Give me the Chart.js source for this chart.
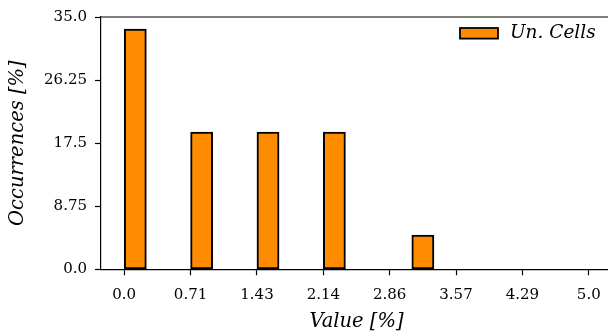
<!DOCTYPE html>
<html>
<head>
<meta charset="utf-8">
<script src="https://cdn.jsdelivr.net/npm/chart.js@4.4.1/dist/chart.umd.min.js"></script>
<style>
  html, body { margin: 0; padding: 0; background: #fff; overflow: hidden; }
  #wrap { width: 620px; height: 334px; }
</style>
</head>
<body>
<div id="wrap"><canvas id="hist" width="620" height="334"></canvas></div>
<script>
// histogram: 21 bins over [0, 5]
const binRange = [0, 5];
const binCount = 21;
const occurrences = [33.33, 0, 0, 19.05, 0, 0, 19.05, 0, 0, 19.05, 0, 0, 0, 4.76, 0, 0, 0, 0, 0, 0, 0];
const seriesLabel = 'Un. Cells';

const xTickValues = [0, 0.714, 1.429, 2.143, 2.857, 3.571, 4.286, 5.0];
const xTickLabels = ['0.0', '0.71', '1.43', '2.14', '2.86', '3.57', '4.29', '5.0'];
const yTickValues = [0, 8.75, 17.5, 26.25, 35.0];
const yTickLabels = ['0.0', '8.75', '17.5', '26.25', '35.0'];

const barColor = '#ff8c00';
const serif = "'DejaVu Serif', serif";

const binWidth = (binRange[1] - binRange[0]) / binCount;
const points = occurrences.map((v, i) => ({
    x: binRange[0] + (i + 0.5) * binWidth,
    y: v > 0 ? v : null
}));

// top/right spines
const frame = {
    id: 'frame',
    afterDraw(chart) {
        const a = chart.chartArea, ctx = chart.ctx;
        ctx.save();
        ctx.strokeStyle = '#000';
        ctx.lineWidth = 1.2;
        ctx.beginPath();
        ctx.moveTo(a.left, a.top);
        ctx.lineTo(a.right, a.top);
        ctx.lineTo(a.right, a.bottom);
        ctx.stroke();
        ctx.restore();
    }
};

// legend inside the axes, upper right
const innerLegend = {
    id: 'innerLegend',
    afterDraw(chart) {
        const a = chart.chartArea, ctx = chart.ctx;
        const ds = chart.data.datasets[0];
        const bx = a.right - 152, by = a.top + 11, bw = 38, bh = 10.6;
        ctx.save();
        ctx.fillStyle = ds.backgroundColor;
        ctx.strokeStyle = ds.borderColor;
        ctx.lineWidth = 1.8;
        ctx.fillRect(bx, by, bw, bh);
        ctx.strokeRect(bx, by, bw, bh);
        ctx.fillStyle = '#000';
        ctx.font = 'italic 18.5px ' + serif;
        ctx.textBaseline = 'middle';
        ctx.fillText(ds.label, bx + bw + 12, by + bh / 2);
        ctx.restore();
    }
};

new Chart(document.getElementById('hist'), {
    type: 'bar',
    data: {
        datasets: [{
            label: seriesLabel,
            data: points,
            backgroundColor: barColor,
            borderColor: '#000',
            borderWidth: 2,
            borderSkipped: false,
            barPercentage: 1,
            categoryPercentage: 1
        }]
    },
    options: {
        responsive: false,
        animation: false,
        layout: { padding: { left: 0, top: 15.7, right: 8, bottom: 0 } },
        plugins: {
            legend: { display: false },
            tooltip: { enabled: false }
        },
        scales: {
            x: {
                type: 'linear',
                offset: false,
                min: binRange[0] - 0.25,
                max: binRange[1] + 0.25,
                afterBuildTicks: s => { s.ticks = xTickValues.map(v => ({ value: v })); },
                afterFit: s => { s.height = 64.7; },
                ticks: {
                    color: '#000',
                    font: { family: serif, size: 15 },
                    padding: 11,
                    maxRotation: 0,
                    autoSkip: false,
                    callback: (v, i) => xTickLabels[i]
                },
                grid: { offset: false, drawOnChartArea: false, drawTicks: true, tickLength: 6, tickWidth: 1.2, color: '#000' },
                border: { display: true, color: '#000', width: 1.2 },
                title: {
                    display: true,
                    text: 'Value [%]',
                    color: '#000',
                    font: { family: serif, size: 19.5, style: 'italic' },
                    padding: { top: 0, bottom: 0 }
                }
            },
            y: {
                min: 0,
                max: 35,
                afterBuildTicks: s => { s.ticks = yTickValues.map(v => ({ value: v })); },
                afterFit: s => { s.width = 101; },
                ticks: {
                    color: '#000',
                    font: { family: serif, size: 15 },
                    padding: 8,
                    callback: (v, i) => yTickLabels[i]
                },
                grid: { drawOnChartArea: false, drawTicks: true, tickLength: 6, tickWidth: 1.2, color: '#000' },
                border: { display: true, color: '#000', width: 1.2 },
                title: {
                    display: true,
                    text: 'Occurrences [%]',
                    color: '#000',
                    font: { family: serif, size: 19.5, style: 'italic' },
                    padding: { top: 6, bottom: 0 }
                }
            }
        }
    },
    plugins: [frame, innerLegend]
});
</script>
</body>
</html>
